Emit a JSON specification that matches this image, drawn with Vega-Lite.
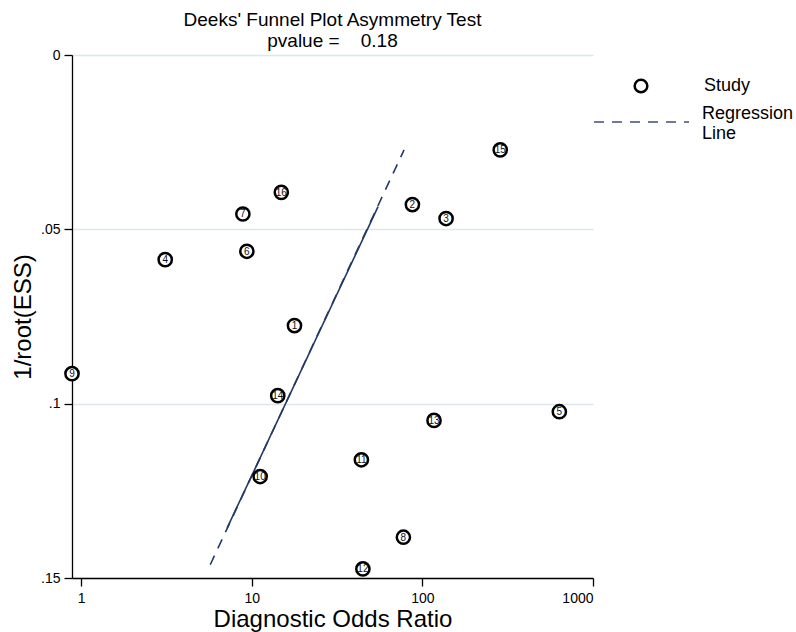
{
  "$schema": "https://vega.github.io/schema/vega-lite/v6.json",
  "width": 521,
  "height": 523,
  "autosize": {"type": "none"},
  "padding": {"left": 72, "top": 55, "right": 203, "bottom": 54},
  "background": "white",
  "title": {
    "text": ["Deeks' Funnel Plot Asymmetry Test", "pvalue =\u00a0\u00a0\u00a0\u00a00.18"],
    "anchor": "middle",
    "frame": "group",
    "font": "Liberation Sans",
    "fontSize": 19,
    "fontWeight": "normal",
    "color": "#000000",
    "offset": -3,
    "lineHeight": 21
  },
  "config": {
    "view": {"stroke": null},
    "axis": {
      "domainColor": "#000000",
      "domainWidth": 1.3,
      "tickColor": "#000000",
      "tickWidth": 1.3,
      "tickSize": 8,
      "labelFont": "Liberation Sans",
      "labelFontSize": 14,
      "labelColor": "#000000",
      "titleFont": "Liberation Sans",
      "titleFontSize": 24,
      "titleFontWeight": "normal",
      "titleColor": "#000000",
      "labelPadding": 4,
      "grid": false
    },
    "legend": {
      "labelFont": "Liberation Sans",
      "labelFontSize": 18,
      "labelColor": "#000000",
      "padding": 0,
      "title": null
    }
  },
  "datasets": {
    "studies": [
      {"study": 1, "dor": 17.8, "inv": 0.0776, "series": "Study"},
      {"study": 2, "dor": 87.4, "inv": 0.0429, "series": "Study"},
      {"study": 3, "dor": 137.7, "inv": 0.0469, "series": "Study"},
      {"study": 4, "dor": 3.11, "inv": 0.0587, "series": "Study"},
      {"study": 5, "dor": 635, "inv": 0.1023, "series": "Study"},
      {"study": 6, "dor": 9.36, "inv": 0.0563, "series": "Study"},
      {"study": 7, "dor": 8.87, "inv": 0.0456, "series": "Study"},
      {"study": 8, "dor": 77.4, "inv": 0.1383, "series": "Study"},
      {"study": 9, "dor": 0.884, "inv": 0.0914, "series": "Study"},
      {"study": 10, "dor": 11.2, "inv": 0.1209, "series": "Study"},
      {"study": 11, "dor": 43.9, "inv": 0.1161, "series": "Study"},
      {"study": 12, "dor": 44.8, "inv": 0.1474, "series": "Study"},
      {"study": 13, "dor": 117, "inv": 0.1048, "series": "Study"},
      {"study": 14, "dor": 14.2, "inv": 0.0977, "series": "Study"},
      {"study": 15, "dor": 286, "inv": 0.0272, "series": "Study"},
      {"study": 16, "dor": 14.9, "inv": 0.0394, "series": "Study"}
    ],
    "regline": [
      {"dor": 5.71, "inv": 0.1462, "series": "Regression Line"},
      {"dor": 78.1, "inv": 0.0272, "series": "Regression Line"}
    ],
    "solidpart": [
      {"dor": 7.18, "inv": 0.1356},
      {"dor": 55.0, "inv": 0.0435}
    ]
  },
  "encoding": {
    "x": {
      "field": "dor",
      "type": "quantitative",
      "scale": {"type": "log", "domain": [0.884, 1000], "nice": false},
      "axis": {
        "values": [1, 10, 100, 1000],
        "format": "d",
        "title": "Diagnostic Odds Ratio",
        "labelPadding": 5,
        "titlePadding": 2
      }
    },
    "y": {
      "field": "inv",
      "type": "quantitative",
      "scale": {"domain": [0, 0.15], "reverse": true, "nice": false, "zero": false},
      "axis": {
        "values": [0, 0.05, 0.1, 0.15],
        "labelExpr": "datum.value == 0 ? '0' : replace(format(datum.value, '.2~f'), '0.', '.')",
        "title": "1/root(ESS)",
        "grid": true,
        "gridColor": "#dce8ec",
        "gridWidth": 1.5,
        "titlePadding": 5
      }
    }
  },
  "layer": [
    {
      "data": {"name": "regline"},
      "mark": {"type": "line", "color": "#243a66", "strokeWidth": 1.6},
      "encoding": {
        "strokeDash": {
          "field": "series",
          "type": "nominal",
          "scale": {"range": [[10, 8]]},
          "legend": {
            "orient": "none",
            "legendX": 521,
            "legendY": 45,
            "symbolType": "stroke",
            "symbolSize": 9025,
            "symbolStrokeColor": "#3d4f70",
            "symbolStrokeWidth": 1.5,
            "clipHeight": 44,
            "labelOffset": 12,
            "labelExpr": "datum.label == 'Regression Line' ? ['Regression', 'Line'] : datum.label",
            "encode": {"labels": {"update": {"dy": {"value": -8}}}}
          }
        }
      }
    },
    {
      "data": {"name": "solidpart"},
      "mark": {"type": "line", "color": "#243a66", "strokeWidth": 1.6},
      "encoding": {}
    },
    {
      "data": {"name": "studies"},
      "mark": {"type": "point", "shape": "circle", "size": 175, "fill": "white", "stroke": "black", "strokeWidth": 2.5, "opacity": 1, "filled": false},
      "encoding": {
        "shape": {
          "field": "series",
          "type": "nominal",
          "scale": {"range": ["circle"]},
          "legend": {
            "orient": "none",
            "legendX": 560,
            "legendY": 22,
            "symbolSize": 160,
            "symbolType": "circle",
            "symbolStrokeWidth": 2.5,
            "labelOffset": 54,
            "encode": {
              "symbols": {
                "update": {
                  "fill": {"value": "white"},
                  "stroke": {"value": "black"},
                  "strokeWidth": {"value": 2.5},
                  "opacity": {"value": 1}
                }
              }
            }
          }
        }
      }
    },
    {
      "data": {"name": "studies"},
      "mark": {"type": "text", "fontSize": 10, "font": "Liberation Sans", "color": "#111111", "align": "center", "baseline": "middle", "dy": 0.5},
      "encoding": {
        "text": {"field": "study", "type": "nominal"}
      }
    }
  ]
}
